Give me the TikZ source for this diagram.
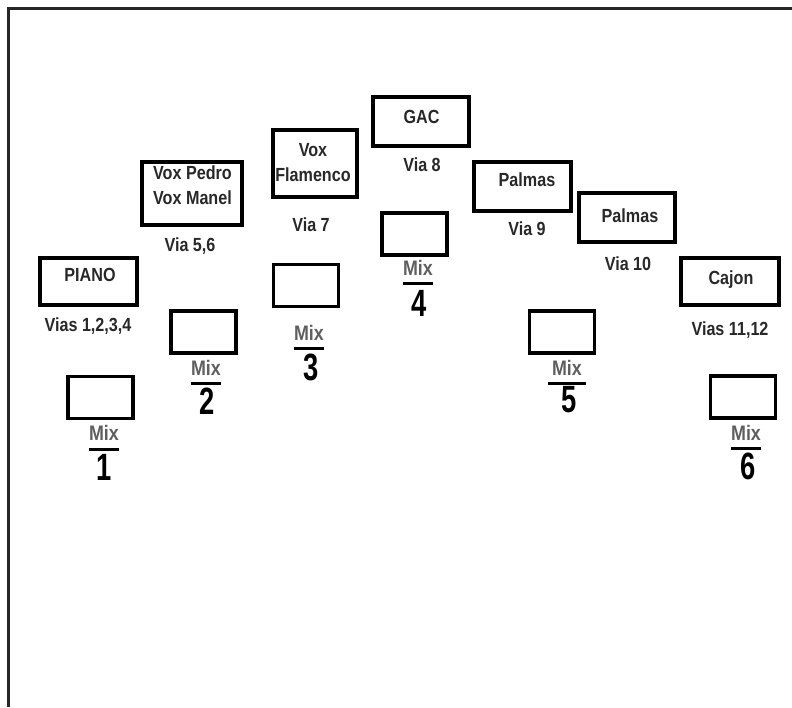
\documentclass[tikz,border=0pt]{standalone}
\usepackage{xcolor}
\usepackage{fontspec}
\setmainfont{Liberation Sans}[FakeStretch=0.85]
\newfontfamily\numfont{Liberation Sans}[FakeStretch=0.72]
\usepackage{tikz}
\usetikzlibrary{positioning}
\definecolor{inkgray}{RGB}{40, 40, 40}
\definecolor{mixgray}{RGB}{95, 95, 95}

\begin{document}
\begin{tikzpicture}[x=1pt, y=-1pt,
  frameline/.style={draw=black!85, line width=3pt},
  srcbox/.style={draw=black, line width=3.2pt, rectangle, inner sep=0pt},
  mixbox/.style={draw=black, line width=3.2pt, rectangle, inner sep=0pt, minimum width=65pt, minimum height=42pt},
  boxtxt/.style={font=\fontsize{19}{25}\selectfont\bfseries, text=inkgray, align=center, inner sep=0pt},
  viatxt/.style={font=\fontsize{19}{23}\selectfont\bfseries, text=inkgray, inner sep=0pt},
  mixtxt/.style={font=\fontsize{21}{23}\selectfont\bfseries, text=mixgray, inner sep=0pt},
  mixnum/.style={font=\numfont\fontsize{38}{40}\selectfont\bfseries, text=black, inner sep=0pt},
  mixrule/.style={draw=black, line width=2.8pt}
]
\useasboundingbox (0,0) rectangle (792,707);

% Frame
\draw[frameline] (8,707) -- (8,8) -- (792,8);

% Sources
\node[srcbox, minimum width=97pt, minimum height=47pt] (piano) at (88.5, 281.5) {};
\node[boxtxt] (pianotxt) at (90, 275) {PIANO};
\node[viatxt] (pianovia) at (88, 326) {Vias 1,2,3,4};

\node[srcbox, minimum width=100pt, minimum height=63pt] (voces) at (192, 193.5) {};
\node[boxtxt] (vocestxt) at (192.5, 185) {Vox Pedro\\Vox Manel};
\node[viatxt] (vocesvia) at (190, 246) {Via 5,6};

\node[srcbox, minimum width=84pt, minimum height=67pt] (flamenco) at (315, 163.5) {};
\node[boxtxt] (flamencotxt) at (313, 163) {Vox\\Flamenco};
\node[viatxt] (flamencovia) at (311, 225) {Via 7};

\node[srcbox, minimum width=96pt, minimum height=49pt] (gac) at (421, 121.5) {};
\node[boxtxt] (gactxt) at (421.5, 117) {GAC};
\node[viatxt] (gacvia) at (422, 165) {Via 8};

\node[srcbox, minimum width=97pt, minimum height=49pt] (palmasa) at (522.5, 186.5) {};
\node[boxtxt] (palmasatxt) at (527, 180) {Palmas};
\node[viatxt] (palmasavia) at (527, 229) {Via 9};

\node[srcbox, minimum width=96pt, minimum height=49pt] (palmasb) at (627, 217.5) {};
\node[boxtxt] (palmasbtxt) at (630, 216) {Palmas};
\node[viatxt] (palmasbvia) at (628, 264) {Via 10};

\node[srcbox, minimum width=98pt, minimum height=47pt] (cajon) at (730, 281.5) {};
\node[boxtxt] (cajontxt) at (731, 280) {Cajon};
\node[viatxt] (cajonvia) at (730, 330) {Vias 11,12};

% Mixes
\node[mixbox] (mixa) at (100.5, 397.5) {};
\node[mixtxt] (mixatxt) at (104, 432.5) {Mix};
\draw[mixrule] ([yshift=-9pt]mixatxt.south west) -- ([yshift=-9pt]mixatxt.south east);
\node[mixnum] (mixanum) at (104, 467) {1};

\node[mixbox] (mixb) at (203.5, 332) {};
\node[mixtxt] (mixbtxt) at (206, 367.5) {Mix};
\draw[mixrule] ([yshift=-8pt]mixbtxt.south west) -- ([yshift=-8pt]mixbtxt.south east);
\node[mixnum] (mixbnum) at (207, 401) {2};

\node[mixbox] (mixc) at (306, 285.5) {};
\node[mixtxt] (mixctxt) at (309, 332.5) {Mix};
\draw[mixrule] ([yshift=-8pt]mixctxt.south west) -- ([yshift=-8pt]mixctxt.south east);
\node[mixnum] (mixcnum) at (311, 367) {3};

\node[mixbox] (mixd) at (414.5, 234) {};
\node[mixtxt] (mixdtxt) at (418, 268) {Mix};
\draw[mixrule] ([yshift=-8pt]mixdtxt.south west) -- ([yshift=-8pt]mixdtxt.south east);
\node[mixnum] (mixdnum) at (419, 303) {4};

\node[mixbox] (mixe) at (562, 332) {};
\node[mixtxt] (mixetxt) at (567, 367.5) {Mix};
\draw[mixrule] ([yshift=-8pt,xshift=-4pt]mixetxt.south west) -- ([yshift=-8pt,xshift=4pt]mixetxt.south east);
\node[mixnum] (mixenum) at (569, 400) {5};

\node[mixbox] (mixf) at (743, 397) {};
\node[mixtxt] (mixftxt) at (746, 433) {Mix};
\draw[mixrule] ([yshift=-8pt]mixftxt.south west) -- ([yshift=-8pt]mixftxt.south east);
\node[mixnum] (mixfnum) at (748, 466) {6};

\end{tikzpicture}
\end{document}
